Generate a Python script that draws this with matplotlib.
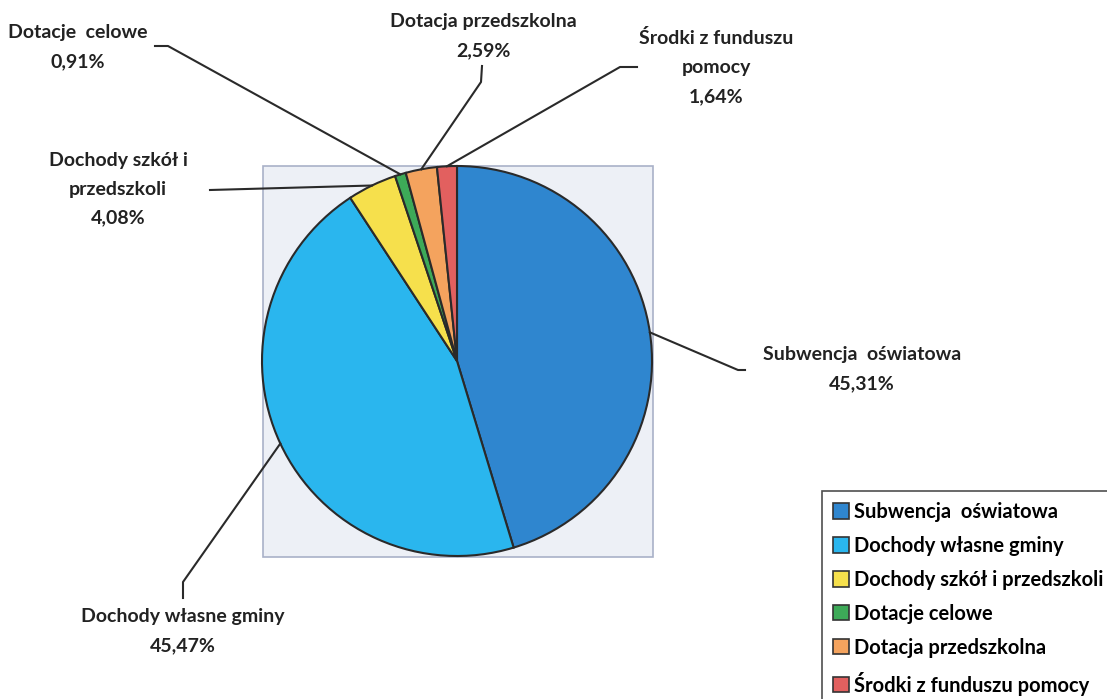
import matplotlib.pyplot as plt
import numpy as np
from matplotlib.patches import Patch, Rectangle

W, H = 1107, 699

labels = [
    "Subwencja  oświatowa",
    "Dochody własne gminy",
    "Dochody szkół i przedszkoli",
    "Dotacje celowe",
    "Dotacja przedszkolna",
    "Środki z funduszu pomocy",
]
shares = [45.31, 45.47, 4.08, 0.91, 2.59, 1.64]
slice_texts = [
    "Subwencja  oświatowa\n45,31%",
    "Dochody własne gminy\n45,47%",
    "Dochody szkół i\nprzedszkoli\n4,08%",
    "Dotacje  celowe\n0,91%",
    "Dotacja przedszkolna\n2,59%",
    "Środki z funduszu\npomocy\n1,64%",
]
colors = ["#2f86cf", "#2ab6ee", "#f6e04c", "#3daa58", "#f4a35e", "#e2605f"]

# label placement (pixel coords from top-left): text centre, leader elbow
text_pos = [(862, 369), (183, 631), (118, 189), (78, 47), (483, 36), (716, 67)]
elbows = [[(745, 370), (738, 370)], [(183, 598), (183, 582)],
          [(210, 190)], [(155, 46), (168, 46)],
          [(482, 66), (481, 82)], [(637, 67), (620, 67)]]

CX, CY, R = 457, 361, 195

plt.rcParams["font.family"] = ["Lato", "DejaVu Sans"]
fig = plt.figure(figsize=(W / 100, H / 100), dpi=100)
ax = fig.add_axes([0, 0, 1, 1])


def px(x, y):
    return x, H - y


ax.add_patch(Rectangle(px(263, 557), 390, 391, facecolor="#edf0f6",
                       edgecolor="#a9b1c8", linewidth=1.2, zorder=0))

wedges, _ = ax.pie(shares, colors=colors, startangle=90, counterclock=False,
                   center=px(CX, CY), radius=R,
                   wedgeprops=dict(edgecolor="#2a2a2a", linewidth=1.5))

for wedge, txt, tpos, elbow in zip(wedges, slice_texts, text_pos, elbows):
    mid = np.deg2rad((wedge.theta1 + wedge.theta2) / 2)
    ex = wedge.center[0] + wedge.r * np.cos(mid)
    ey = wedge.center[1] + wedge.r * np.sin(mid)
    pts = [px(*p) for p in elbow] + [(ex, ey)]
    xs, ys = zip(*pts)
    ax.plot(xs, ys, color="#2a2a2a", linewidth=1.5, zorder=3)
    ax.text(*px(*tpos), txt, ha="center", va="center", fontsize=14,
            fontweight="bold", color="#222222", linespacing=1.85)

handles = [Patch(facecolor=c, edgecolor="#333333", linewidth=1.2) for c in colors]
leg = ax.legend(handles, labels, loc="upper left", bbox_to_anchor=(822 / W, 1 - 491 / H),
                frameon=True, fancybox=False, edgecolor="#222222",
                prop=dict(family=["Lato", "DejaVu Sans"], weight="bold", size=14.5),
                handlelength=0.8, handleheight=0.8, handletextpad=0.25,
                labelspacing=0.69, borderpad=0.55, borderaxespad=0)
leg.get_frame().set_linewidth(1.2)

ax.set_xlim(0, W)
ax.set_ylim(0, H)
ax.set_aspect("auto")
ax.axis("off")

fig.savefig("out.png", dpi=100)
